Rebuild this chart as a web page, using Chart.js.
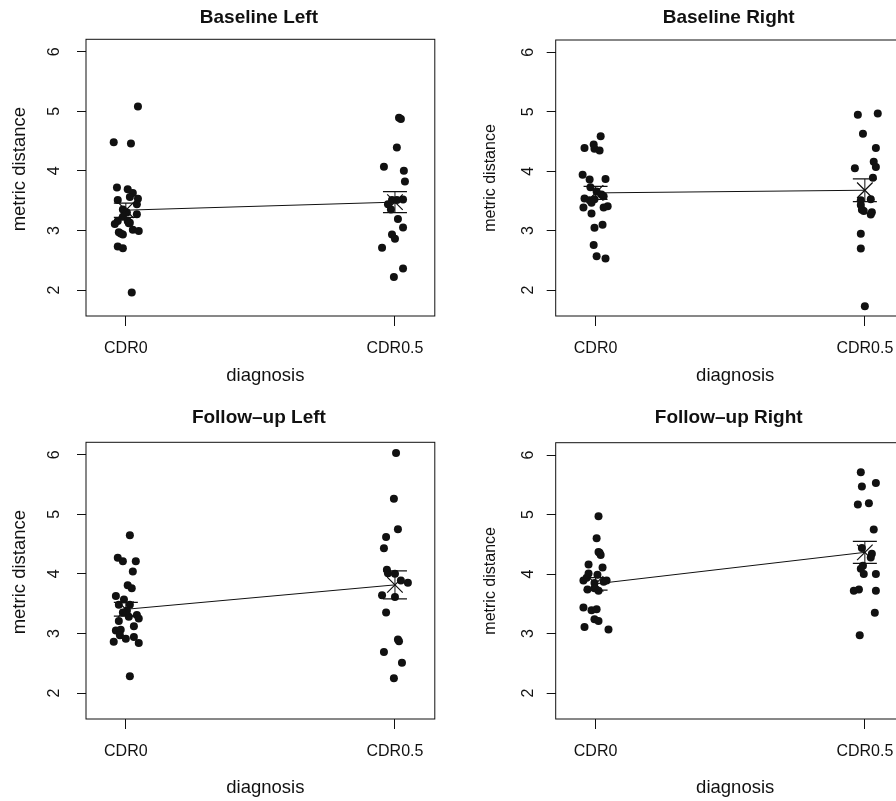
<!DOCTYPE html>
<html>
<head>
<meta charset="utf-8">
<script src="https://cdn.jsdelivr.net/npm/chart.js@4.4.1/dist/chart.umd.min.js"></script>
<style>
  html, body { margin: 0; padding: 0; background: #fff; overflow: hidden; width: 896px; height: 801px; }
  canvas { position: absolute; }
</style>
</head>
<body>
<canvas id="p0" width="448" height="400" style="left:0;top:0"></canvas>
<canvas id="p1" width="470" height="400" style="left:448px;top:0"></canvas>
<canvas id="p2" width="448" height="401" style="left:0;top:400px"></canvas>
<canvas id="p3" width="470" height="401" style="left:448px;top:400px"></canvas>
<script>
// === data ===
const categories = ['CDR0', 'CDR0.5'];
const yTickValues = [2, 3, 4, 5, 6];
const panelTitles = ['Baseline Left', 'Baseline Right', 'Follow\u2013up Left', 'Follow\u2013up Right'];
const xTitle = 'diagnosis';
const yTitle = 'metric distance';

// Baseline Left
const blCdr0 = [5.08, 4.48, 4.46, 3.72, 3.69, 3.63, 3.56, 3.53, 3.51, 3.44, 3.35, 3.27, 3.23, 3.16, 3.11, 3.16, 3.12, 3.13, 3.01, 2.99, 2.97, 2.93, 2.95, 2.73, 2.70, 1.96, 3.30];
const blCdr0Jit = [.045, -.045, .019, -.033, .007, .026, .015, .045, -.030, .041, -.011, .041, -.011, -.030, -.041, .007, .011, .015, .026, .048, -.026, -.011, -.019, -.030, -.011, .022, .004];
const blCdr05 = [4.89, 4.87, 4.39, 4.07, 4.00, 3.82, 3.52, 3.51, 3.44, 3.35, 3.51, 3.19, 3.05, 2.93, 2.86, 2.71, 2.36, 2.22];
const blCdr05Jit = [.015, .022, .007, -.041, .033, .037, .030, -.011, -.026, -.015, .007, .011, .030, -.011, 0, -.048, .030, -.004];

// Baseline Right
const brCdr0 = [4.59, 4.39, 4.45, 4.38, 4.35, 3.94, 3.86, 3.87, 3.73, 3.66, 3.61, 3.58, 3.54, 3.51, 3.53, 3.47, 3.39, 3.39, 3.41, 3.29, 3.10, 3.05, 2.76, 2.57, 2.53];
const brCdr0Jit = [.019, -.041, -.007, -.004, .015, -.048, -.022, .037, -.019, .004, .022, .030, -.041, -.022, -.004, -.015, -.045, .030, .045, -.015, .026, -.004, -.007, .004, .037];
const brCdr05 = [4.95, 4.97, 4.63, 4.39, 4.16, 4.07, 4.05, 3.89, 3.51, 3.53, 3.43, 3.35, 3.33, 3.31, 3.27, 2.95, 2.70, 1.73];
const brCdr05Jit = [-.026, .048, -.007, .041, .033, .041, -.037, .030, -.015, .022, -.015, -.011, -.004, .026, .022, -.015, -.015, 0];

// Follow-up Left
const flCdr0 = [4.65, 4.27, 4.21, 4.21, 4.04, 3.81, 3.76, 3.63, 3.57, 3.48, 3.48, 3.35, 3.28, 3.31, 3.25, 3.21, 3.12, 3.05, 3.06, 2.97, 2.91, 2.94, 2.86, 2.84, 2.28, 3.38];
const flCdr0Jit = [.015, -.030, -.011, .037, .026, .007, .022, -.037, -.007, -.026, .015, -.011, .011, .041, .048, -.026, .030, -.037, -.019, -.022, 0, .030, -.045, .048, .015, .004];
const flCdr05 = [6.03, 5.26, 4.75, 4.62, 4.43, 4.07, 4.01, 4.00, 3.89, 3.85, 3.64, 3.61, 3.35, 2.90, 2.87, 2.69, 2.51, 2.25];
const flCdr05Jit = [.004, -.004, .011, -.033, -.041, -.030, -.026, 0, .022, .048, -.048, 0, -.033, .011, .015, -.041, .026, -.004];

// Follow-up Right
const frCdr0 = [4.97, 4.60, 4.37, 4.36, 4.32, 4.16, 4.11, 4.01, 3.99, 3.89, 3.94, 3.87, 3.89, 3.85, 3.74, 3.76, 3.72, 3.44, 3.39, 3.41, 3.24, 3.21, 3.11, 3.07];
const frCdr0Jit = [.011, .004, .011, .015, .019, -.026, .026, -.026, .007, -.045, -.033, .030, .041, -.004, -.030, -.004, .011, -.045, -.015, .004, -.004, .011, -.041, .048];
const frCdr05 = [5.71, 5.53, 5.47, 5.17, 5.19, 4.75, 4.44, 4.34, 4.28, 4.14, 4.09, 4.00, 4.00, 3.72, 3.74, 3.72, 3.35, 2.97];
const frCdr05Jit = [-.015, .041, -.011, -.026, .015, .033, -.011, .026, .022, -.007, -.015, -.004, .041, -.041, -.022, .041, .037, -.019];

// group means and standard errors (CDR0, CDR0.5)
const groupMeans = [[3.34, 3.475], [3.635, 3.68], [3.405, 3.815], [3.835, 4.365]];
const groupSE = [[0.12, 0.175], [0.11, 0.19], [0.115, 0.235], [0.105, 0.185]];

const panelData = [
  [[blCdr0, blCdr0Jit], [blCdr05, blCdr05Jit]],
  [[brCdr0, brCdr0Jit], [brCdr05, brCdr05Jit]],
  [[flCdr0, flCdr0Jit], [flCdr05, flCdr05Jit]],
  [[frCdr0, frCdr0Jit], [frCdr05, frCdr05Jit]]
];

// === layout of the four plot boxes ===
const layouts = [
  { id: 'p0', w: 448, h: 400, l: 86,    r: 435,   t: 39.3, b: 316, titleGap: 16.6, xTitleGap: 65,   yTickGap: 26.7, yTitleSize: 18.5, yTitleShift: -8.5 },
  { id: 'p1', w: 470, h: 400, l: 107.7, r: 456.7, t: 40,   b: 316, titleGap: 16.6, xTitleGap: 65,   yTickGap: 23,   yTitleSize: 16,   yTitleShift: 0 },
  { id: 'p2', w: 448, h: 401, l: 86,    r: 435,   t: 42.3, b: 319, titleGap: 19.3, xTitleGap: 74.3, yTickGap: 26.7, yTitleSize: 18.5, yTitleShift: -8.5 },
  { id: 'p3', w: 470, h: 401, l: 107.7, r: 456.7, t: 42.7, b: 319, titleGap: 19.3, xTitleGap: 74.3, yTickGap: 23,   yTitleSize: 16,   yTitleShift: 0 }
];

const ink = '#111';
const fam = '"Liberation Sans", Arial, Helvetica, sans-serif';

// box, titles and R-style tick labels
const frame = {
  id: 'frame',
  afterDraw(chart, args, o) {
    const { ctx, chartArea: a } = chart;
    const x = chart.scales.x, y = chart.scales.y;
    ctx.save();
    ctx.strokeStyle = ink;
    ctx.lineWidth = 1;
    ctx.strokeRect(a.left, a.top, a.right - a.left, a.bottom - a.top);
    ctx.fillStyle = ink;
    ctx.textAlign = 'center';
    ctx.textBaseline = 'alphabetic';
    ctx.font = 'bold 19px ' + fam;
    ctx.fillText(o.title, (a.left + a.right) / 2 - 1.5, a.top - o.titleGap);
    ctx.font = '16px ' + fam;
    categories.forEach((c, i) => ctx.fillText(c, x.getPixelForValue(i + 1), a.bottom + 36.7));
    ctx.font = '18.5px ' + fam;
    ctx.fillText(xTitle, (a.left + a.right) / 2 + 5, a.bottom + o.xTitleGap);
    ctx.font = '16px ' + fam;
    yTickValues.forEach(v => {
      ctx.save();
      ctx.translate(a.left - o.yTickGap, y.getPixelForValue(v));
      ctx.rotate(-Math.PI / 2);
      ctx.fillText(String(v), 0, 0);
      ctx.restore();
    });
    ctx.translate(a.left - 61, (a.top + a.bottom) / 2 + o.yTitleShift);
    ctx.rotate(-Math.PI / 2);
    ctx.font = o.yTitleSize + 'px ' + fam;
    ctx.fillText(yTitle, 0, 0);
    ctx.restore();
  }
};

function makePanel(k) {
  const L = layouts[k];
  const datasets = [];

  // group means joined by a line, drawn with an X
  datasets.push({
    data: categories.map((c, i) => ({ x: i + 1, y: groupMeans[k][i] })),
    showLine: true,
    borderColor: ink,
    borderWidth: 1,
    pointStyle: 'crossRot',
    pointRadius: 11,
    pointBorderColor: ink,
    pointBorderWidth: 1.2,
    order: 0
  });

  // standard error bars with caps
  categories.forEach((c, i) => {
    datasets.push({
      data: [
        { x: i + 1, y: groupMeans[k][i] - groupSE[k][i] },
        { x: i + 1, y: groupMeans[k][i] + groupSE[k][i] }
      ],
      showLine: true,
      borderColor: ink,
      borderWidth: 1,
      pointStyle: 'line',
      pointRadius: 12,
      pointBorderColor: ink,
      pointBorderWidth: 1.2,
      order: 1
    });
  });

  // jittered observations
  panelData[k].forEach(([vals, jit], i) => {
    datasets.push({
      data: vals.map((v, j) => ({ x: i + 1 + jit[j], y: v })),
      pointStyle: 'circle',
      pointRadius: 4,
      pointBackgroundColor: ink,
      pointBorderWidth: 0,
      order: 2
    });
  });

  new Chart(document.getElementById(L.id), {
    type: 'scatter',
    data: { datasets },
    options: {
      responsive: false,
      animation: false,
      events: [],
      layout: { padding: { left: 0, top: L.t, right: L.w - L.r, bottom: 0 } },
      plugins: {
        legend: { display: false },
        tooltip: { enabled: false },
        frame: { title: panelTitles[k], titleGap: L.titleGap, xTitleGap: L.xTitleGap, yTickGap: L.yTickGap, yTitleSize: L.yTitleSize, yTitleShift: L.yTitleShift }
      },
      scales: {
        x: {
          type: 'linear',
          min: 0.852,
          max: 2.148,
          afterBuildTicks: s => { s.ticks = categories.map((c, i) => ({ value: i + 1 })); },
          afterFit: s => { s.height = L.h - L.b; },
          ticks: { display: false },
          grid: { drawOnChartArea: false, drawTicks: true, tickLength: 10, color: ink, lineWidth: 1 },
          border: { display: false }
        },
        y: {
          type: 'linear',
          min: 1.564,
          max: 6.208,
          afterBuildTicks: s => { s.ticks = yTickValues.map(v => ({ value: v })); },
          afterFit: s => { s.width = L.l; },
          ticks: { display: false },
          grid: { drawOnChartArea: false, drawTicks: true, tickLength: 9, color: ink, lineWidth: 1 },
          border: { display: false }
        }
      }
    },
    plugins: [frame]
  });
}

layouts.forEach((L, k) => makePanel(k));
</script>
</body>
</html>
